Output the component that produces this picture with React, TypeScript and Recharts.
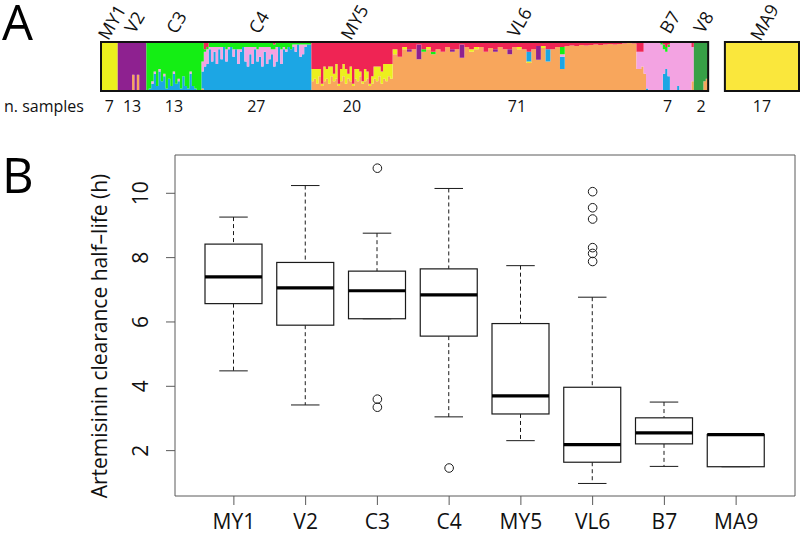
import React from 'react';
import { ComposedChart, Area, XAxis, YAxis, ReferenceArea, Bar, Scatter } from 'recharts';

const FONT = '"Open Sans", "Noto Sans", sans-serif';

// ---------------- Panel A: structure plot ----------------
const groupNames = ['MY1', 'V2', 'C3', 'C4', 'MY5', 'VL6', 'B7', 'V8', 'MA9'];
const sampleCounts = [7, 13, 13, 27, 20, 71, 7, 2, 17];
// widths in structure-plot columns
const groupWidths = [7, 12, 23, 46, 34, 104, 22, 6, 31];
const gapWidth = 7;

const layerKeys = ['o', 'y', 'p', 'b', 'k', 'g', 'd', 'r', 'm'];
const layerColors: Record<string, string> = {
  o: '#F8A65C',
  y: '#ECEF1E',
  p: '#8E2190',
  b: '#1CA6E4',
  k: '#F3A3E2',
  g: '#14EE14',
  d: '#37A046',
  r: '#EF2454',
  m: '#FAE73C',
};

const MY1_layers = ['y'];
const MY1_cols = [[1]];

const V2_layers = ['o', 'p'];
const V2_cols = [
  [0, 1], [0, 1], [0, 1], [0, 1], [0, 1], [0, 1],
  [0.33, 0.67], [0, 1], [0.33, 0.67], [0, 1], [0, 1], [0, 1],
];

const C3_layers = ['b', 'k', 'g'];
const C3_cols = [
  [0, 0, 1], [0.05, 0, 0.95], [0.15, 0.05, 0.8], [0.35, 0.05, 0.6], [0.1, 0, 0.9],
  [0.4, 0.05, 0.55], [0.2, 0, 0.8], [0.3, 0.05, 0.65], [0.05, 0, 0.95], [0.25, 0, 0.75],
  [0.1, 0, 0.9], [0.35, 0.05, 0.6], [0.15, 0, 0.85], [0.2, 0.05, 0.75], [0.05, 0, 0.95],
  [0.3, 0, 0.7], [0.1, 0, 0.9], [0.05, 0, 0.95], [0.35, 0.05, 0.6], [0.1, 0, 0.9],
  [0.05, 0, 0.95], [0, 0, 1], [0.02, 0, 0.98],
];

const C4_layers = ['o', 'b', 'k', 'g', 'r'];
const C4_cols = [
  [0.05, 0.35, 0.2, 0.4, 0], [0, 0.5, 0.3, 0.05, 0.15], [0, 0.55, 0.3, 0.05, 0.1], [0, 0.85, 0.05, 0.1, 0],
  [0, 0.6, 0.3, 0.1, 0], [0, 0.8, 0.1, 0.1, 0], [0, 0.55, 0.35, 0.1, 0], [0, 0.85, 0.05, 0.1, 0],
  [0, 0.65, 0.25, 0.1, 0], [0, 0.9, 0, 0.1, 0], [0, 0.6, 0.25, 0.15, 0], [0, 0.85, 0.05, 0.1, 0],
  [0, 0.9, 0, 0.1, 0], [0, 0.7, 0.15, 0.15, 0], [0, 0.85, 0, 0.15, 0], [0, 0.55, 0.3, 0.15, 0],
  [0, 0.8, 0.05, 0.15, 0], [0, 0.9, 0, 0.1, 0], [0, 0.6, 0.3, 0.1, 0], [0, 0.5, 0.4, 0.1, 0],
  [0, 0.75, 0.15, 0.1, 0], [0, 0.55, 0.35, 0.1, 0], [0, 0.85, 0.05, 0.1, 0], [0, 0.6, 0.25, 0.15, 0],
  [0, 0.7, 0.2, 0.1, 0], [0, 0.5, 0.4, 0.1, 0], [0, 0.8, 0.1, 0.1, 0], [0, 0.55, 0.35, 0.1, 0],
  [0, 0.65, 0.25, 0.1, 0], [0, 0.75, 0.1, 0.15, 0], [0, 0.5, 0.35, 0.1, 0.05], [0, 0.6, 0.3, 0.1, 0],
  [0, 0.9, 0, 0.1, 0], [0, 0.55, 0.3, 0.15, 0], [0, 0.85, 0.05, 0.1, 0], [0, 0.8, 0.05, 0.15, 0],
  [0, 0.9, 0, 0.1, 0], [0, 0.85, 0, 0.15, 0], [0, 0.9, 0.05, 0.05, 0], [0, 0.8, 0.15, 0.05, 0],
  [0, 0.95, 0, 0.05, 0], [0, 0.7, 0.25, 0.05, 0], [0, 0.75, 0.2, 0.05, 0], [0, 0.9, 0.05, 0.05, 0],
  [0, 0.95, 0, 0.05, 0], [0, 0.95, 0, 0.05, 0],
];

const MY5_layers = ['o', 'y', 'r'];
const MY5_cols = [
  [0.2, 0.25, 0.55], [0.25, 0.2, 0.55], [0.15, 0.3, 0.55], [0.3, 0.15, 0.55], [0.1, 0.05, 0.85],
  [0.2, 0.3, 0.5], [0.25, 0.2, 0.55], [0.15, 0.35, 0.5], [0.3, 0.2, 0.5], [0.2, 0.15, 0.65],
  [0.25, 0.3, 0.45], [0.1, 0.05, 0.85], [0.2, 0.25, 0.55], [0.3, 0.25, 0.45], [0.15, 0.3, 0.55],
  [0.25, 0.1, 0.65], [0.2, 0.3, 0.5], [0.1, 0.05, 0.85], [0.25, 0.2, 0.55], [0.2, 0.25, 0.55],
  [0.3, 0.1, 0.6], [0.15, 0.05, 0.8], [0.2, 0.25, 0.55], [0.25, 0.15, 0.6], [0.1, 0.05, 0.85],
  [0.15, 0.15, 0.7], [0.25, 0.25, 0.5], [0.2, 0.3, 0.5], [0.3, 0.2, 0.5], [0.15, 0.25, 0.6],
  [0.25, 0.3, 0.45], [0.2, 0.35, 0.45], [0.3, 0.25, 0.45], [0.25, 0.3, 0.45],
];

const VL6_layers = ['o', 'y', 'p', 'b', 'k', 'g', 'r'];
const VL6_cols = [
  [0.75, 0.1, 0, 0, 0, 0, 0.15], [0.7, 0, 0, 0, 0, 0, 0.3], [0.85, 0.05, 0, 0, 0, 0, 0.1], [0.8, 0, 0.05, 0, 0, 0, 0.15],
  [0.85, 0, 0, 0, 0, 0, 0.15], [0.65, 0, 0.3, 0, 0, 0, 0.05], [0.8, 0, 0, 0, 0, 0.05, 0.15], [0.85, 0.05, 0, 0, 0, 0, 0.1],
  [0.75, 0, 0, 0, 0, 0.05, 0.2], [0.85, 0, 0, 0, 0, 0, 0.15], [0.8, 0, 0, 0, 0, 0, 0.2], [0.9, 0, 0, 0, 0, 0, 0.1],
  [0.8, 0, 0.05, 0, 0, 0, 0.15], [0.85, 0, 0, 0, 0, 0, 0.15], [0.68, 0, 0.27, 0, 0, 0, 0.05], [0.9, 0, 0, 0, 0, 0, 0.1],
  [0.8, 0.05, 0, 0, 0, 0, 0.15], [0.85, 0.05, 0, 0, 0, 0, 0.1], [0.9, 0, 0, 0, 0, 0, 0.1], [0.8, 0, 0, 0, 0, 0, 0.2],
  [0.88, 0, 0, 0, 0, 0, 0.12], [0.8, 0, 0.05, 0, 0, 0, 0.15], [0.9, 0, 0, 0, 0, 0, 0.1], [0.85, 0, 0, 0, 0, 0, 0.15],
  [0.75, 0, 0.1, 0, 0, 0, 0.15], [0.9, 0, 0, 0, 0, 0, 0.1], [0.85, 0.05, 0, 0, 0, 0, 0.1], [0.85, 0, 0, 0, 0, 0, 0.15],
  [0.57, 0.03, 0, 0.2, 0, 0, 0.2], [0.85, 0, 0, 0, 0, 0, 0.15], [0.64, 0, 0.28, 0, 0, 0, 0.08], [0.88, 0.04, 0, 0, 0, 0, 0.08],
  [0.6, 0, 0, 0.25, 0, 0, 0.15], [0.85, 0, 0, 0, 0, 0, 0.15], [0.9, 0, 0, 0, 0, 0, 0.1], [0.45, 0, 0, 0.25, 0.05, 0.15, 0.1],
  [0.92, 0, 0, 0, 0, 0, 0.08], [0.93, 0, 0, 0, 0, 0, 0.07], [0.92, 0, 0, 0, 0, 0, 0.08], [0.94, 0, 0, 0, 0, 0, 0.06],
  [0.93, 0, 0, 0, 0, 0, 0.07], [0.94, 0, 0, 0, 0, 0, 0.06], [0.95, 0, 0, 0, 0, 0, 0.05], [0.94, 0, 0, 0, 0, 0, 0.06],
  [0.95, 0, 0, 0, 0, 0, 0.05], [0.96, 0, 0, 0, 0, 0, 0.04], [0.95, 0, 0, 0, 0, 0, 0.05], [0.96, 0, 0, 0, 0, 0, 0.04],
  [0.97, 0, 0, 0, 0, 0, 0.03], [0.98, 0, 0, 0, 0, 0, 0.02], [0.97, 0, 0, 0, 0, 0, 0.03], [0.45, 0, 0, 0, 0.35, 0, 0.2],
];

const B7_layers = ['o', 'b', 'k', 'g', 'r'];
const B7_cols = [
  [0.5, 0, 0.3, 0, 0.2], [0.35, 0, 0.65, 0, 0], [0, 0.05, 0.95, 0, 0], [0, 0, 1, 0, 0],
  [0, 0, 1, 0, 0], [0, 0, 1, 0, 0], [0, 0, 1, 0, 0], [0, 0, 1, 0, 0],
  [0, 0, 0.95, 0.05, 0], [0, 0.35, 0.5, 0.1, 0.05], [0, 0.45, 0.35, 0.1, 0.1], [0, 0.3, 0.6, 0.05, 0.05],
  [0, 0, 1, 0, 0], [0, 0, 1, 0, 0], [0, 0, 1, 0, 0], [0, 0.1, 0.9, 0, 0],
  [0, 0, 1, 0, 0], [0, 0, 1, 0, 0], [0, 0, 1, 0, 0], [0, 0, 1, 0, 0],
  [0, 0, 1, 0, 0], [0.2, 0, 0.7, 0, 0.1],
];

const V8_layers = ['o', 'd'];
const V8_cols = [[0, 1], [0, 1], [0, 1], [0, 1], [0.2, 0.8], [0.25, 0.75]];

const MA9_layers = ['m'];
const MA9_cols = [[1]];

const structureGroups = [
  { layers: MY1_layers, cols: MY1_cols },
  { layers: V2_layers, cols: V2_cols },
  { layers: C3_layers, cols: C3_cols },
  { layers: C4_layers, cols: C4_cols },
  { layers: MY5_layers, cols: MY5_cols },
  { layers: VL6_layers, cols: VL6_cols },
  { layers: B7_layers, cols: B7_cols },
  { layers: V8_layers, cols: V8_cols },
  { layers: MA9_layers, cols: MA9_cols },
];

function emptyRow(x: number) {
  const row: any = { x };
  layerKeys.forEach((k) => (row[k] = 0));
  return row;
}

const structureRows: any[] = [];
const groupCenters: number[] = [];
const blockBounds: number[][] = [];
(() => {
  let x = 0;
  let blockStart = 0;
  structureGroups.forEach((g, gi) => {
    if (gi === 8) {
      blockBounds.push([blockStart, x]);
      structureRows.push(emptyRow(x));
      x += gapWidth;
      blockStart = x;
    }
    const w = groupWidths[gi] / g.cols.length;
    g.cols.forEach((col, ci) => {
      const row = emptyRow(x + ci * w);
      g.layers.forEach((k, li) => (row[k] = col[li]));
      structureRows.push(row);
    });
    groupCenters.push(x + groupWidths[gi] / 2);
    x += groupWidths[gi];
  });
  blockBounds.push([blockStart, x]);
  structureRows.push({ ...structureRows[structureRows.length - 1], x });
})();
const structureTotal = structureRows[structureRows.length - 1].x;

const labelIndex = (v: number) => {
  let best = 0;
  groupCenters.forEach((c, i) => {
    if (Math.abs(c - v) < Math.abs(groupCenters[best] - v)) best = i;
  });
  return best;
};

const GroupNameTick = (props: any) => {
  const { x, y, payload } = props;
  const i = labelIndex(payload.value);
  const ty = y - 20;
  return (
    <text
      x={x + 2}
      y={ty}
      textAnchor="middle"
      dominantBaseline="central"
      transform={`rotate(-60, ${x + 2}, ${ty})`}
      fontFamily={FONT}
      fontSize={18}
      fill="#111"
    >
      {groupNames[i]}
    </text>
  );
};

const CountTick = (props: any) => {
  const { x, y, payload } = props;
  const i = labelIndex(payload.value);
  return (
    <text x={x} y={y + 21} textAnchor="middle" fontFamily={FONT} fontSize={16} fill="#111">
      {sampleCounts[i]}
    </text>
  );
};

// ---------------- Panel B: box plot ----------------
const boxGroups = ['MY1', 'V2', 'C3', 'C4', 'MY5', 'VL6', 'B7', 'MA9'];
const whiskerLow = [4.48, 3.42, 6.1, 3.05, 2.31, 0.98, 1.51, 1.5];
const quartile1 = [6.57, 5.9, 6.1, 5.56, 3.14, 1.64, 2.21, 1.5];
const medians = [7.4, 7.06, 6.97, 6.84, 3.7, 2.19, 2.55, 2.5];
const quartile3 = [8.42, 7.85, 7.58, 7.65, 5.95, 3.97, 3.02, 2.5];
const whiskerHigh = [9.26, 10.24, 8.76, 10.15, 7.75, 6.77, 3.51, 2.5];

const outlierGroups = ['C3', 'C3', 'C3', 'C4', 'VL6', 'VL6', 'VL6', 'VL6', 'VL6', 'VL6'];
const outlierValues = [10.78, 3.6, 3.35, 1.46, 10.05, 9.55, 9.2, 8.31, 8.13, 7.88];

const yTicks = [2, 4, 6, 8, 10];
const yDomain = [0.59, 11.19];

const boxData = boxGroups.map((g, i) => ({
  g,
  lo: whiskerLow[i],
  q1: quartile1[i],
  med: medians[i],
  q3: quartile3[i],
  hi: whiskerHigh[i],
  range: [whiskerLow[i], whiskerHigh[i]],
}));
const outlierData = outlierGroups.map((g, i) => ({ g, v: outlierValues[i] }));

const BoxShape = (props: any) => {
  const { x, y, width, height, payload } = props;
  const top = Math.min(y, y + height);
  const h = Math.abs(height);
  const { lo, hi, q1, q3, med } = payload;
  const span = hi - lo || 1;
  const py = (v: number) => top + (h * (hi - v)) / span;
  const cx = x + width / 2;
  const cap = width / 4;
  const stroke = '#1a1a1a';
  return (
    <g>
      {hi > q3 && (
        <line x1={cx} x2={cx} y1={py(hi)} y2={py(q3)} stroke={stroke} strokeWidth={1} strokeDasharray="4 3" />
      )}
      {q1 > lo && (
        <line x1={cx} x2={cx} y1={py(q1)} y2={py(lo)} stroke={stroke} strokeWidth={1} strokeDasharray="4 3" />
      )}
      <line x1={cx - cap} x2={cx + cap} y1={py(hi)} y2={py(hi)} stroke={stroke} strokeWidth={1} />
      <line x1={cx - cap} x2={cx + cap} y1={py(lo)} y2={py(lo)} stroke={stroke} strokeWidth={1} />
      <rect x={x} y={py(q3)} width={width} height={py(q1) - py(q3)} fill="#fff" stroke={stroke} strokeWidth={1.2} />
      <line x1={x} x2={x + width} y1={py(med)} y2={py(med)} stroke="#000" strokeWidth={3.2} />
    </g>
  );
};

const OutlierShape = (props: any) => {
  const { cx, cy } = props;
  return <circle cx={cx} cy={cy} r={4.3} fill="none" stroke="#1a1a1a" strokeWidth={1} />;
};

const YTick = (props: any) => {
  const { x, y, payload } = props;
  const tx = x - 16;
  return (
    <text
      x={tx}
      y={y}
      textAnchor="middle"
      transform={`rotate(-90, ${tx}, ${y})`}
      fontFamily={FONT}
      fontSize={21}
      fill="#111"
    >
      {payload.value}
    </text>
  );
};

const XTick = (props: any) => {
  const { x, y, payload } = props;
  return (
    <text x={x} y={y + 22} textAnchor="middle" fontFamily={FONT} fontSize={21} fill="#111">
      {payload.value}
    </text>
  );
};

const frameColor = '#5a5a5a';

export default function App() {
  return (
    <div style={{ position: 'absolute', left: 0, top: 0, width: 800, height: 535, background: '#fff', fontFamily: FONT }}>
      <div style={{ position: 'absolute', left: 0, top: 0 }}>
        <ComposedChart width={800} height={125} data={structureRows} margin={{ top: 41, right: 1, bottom: 4, left: 101 }}>
          <XAxis
            xAxisId="top"
            orientation="top"
            type="number"
            dataKey="x"
            domain={[0, structureTotal]}
            allowDataOverflow
            ticks={groupCenters}
            interval={0}
            axisLine={false}
            tickLine={false}
            tickSize={0}
            tickMargin={0}
            height={1}
            tick={<GroupNameTick />}
          />
          <XAxis
            xAxisId="bottom"
            orientation="bottom"
            type="number"
            dataKey="x"
            domain={[0, structureTotal]}
            allowDataOverflow
            ticks={groupCenters}
            interval={0}
            axisLine={false}
            tickLine={false}
            tickSize={0}
            tickMargin={0}
            height={30}
            tick={<CountTick />}
          />
          <YAxis hide domain={[0, 1]} allowDataOverflow />
          {layerKeys.map((k) => (
            <Area
              key={k}
              xAxisId="bottom"
              type="stepAfter"
              dataKey={k}
              stackId="q"
              stroke="none"
              fill={layerColors[k]}
              fillOpacity={1}
              dot={false}
              activeDot={false}
              isAnimationActive={false}
            />
          ))}
          {blockBounds.map((b, i) => (
            <ReferenceArea
              key={i}
              xAxisId="bottom"
              x1={b[0]}
              x2={b[1]}
              y1={0}
              y2={1}
              fill="none"
              fillOpacity={0}
              stroke="#111"
              strokeWidth={2}
            />
          ))}
        </ComposedChart>
      </div>

      <div style={{ position: 'absolute', left: 0, top: 130 }}>
        <ComposedChart width={800} height={405} data={boxData} margin={{ top: 24, right: 4, bottom: 0, left: 0 }}>
          <XAxis
            dataKey="g"
            type="category"
            allowDuplicatedCategory={false}
            padding={{ left: 23, right: 23 }}
            height={39}
            tickSize={9}
            tickMargin={2}
            interval={0}
            axisLine={{ stroke: frameColor, strokeWidth: 1 }}
            tickLine={{ stroke: frameColor, strokeWidth: 1 }}
            tick={<XTick />}
          />
          <XAxis
            xAxisId="frameTop"
            dataKey="g"
            orientation="top"
            type="category"
            allowDuplicatedCategory={false}
            height={1}
            tick={false}
            tickLine={false}
            axisLine={{ stroke: frameColor, strokeWidth: 1 }}
          />
          <YAxis
            type="number"
            domain={yDomain}
            allowDataOverflow
            ticks={yTicks}
            interval={0}
            width={175}
            tickSize={9}
            tickMargin={2}
            axisLine={{ stroke: frameColor, strokeWidth: 1 }}
            tickLine={{ stroke: frameColor, strokeWidth: 1 }}
            tick={<YTick />}
          />
          <YAxis
            yAxisId="frameRight"
            orientation="right"
            type="number"
            domain={yDomain}
            allowDataOverflow
            width={1}
            tick={false}
            tickLine={false}
            axisLine={{ stroke: frameColor, strokeWidth: 1 }}
          />
          <Bar dataKey="range" barSize={57} shape={<BoxShape />} isAnimationActive={false} />
          <Scatter data={outlierData} dataKey="v" shape={<OutlierShape />} isAnimationActive={false} />
        </ComposedChart>
      </div>

      <svg width={800} height={535} style={{ position: 'absolute', left: 0, top: 0, pointerEvents: 'none' }}>
        <text x={2} y={40} fontFamily={FONT} fontSize={49} fill="#000">A</text>
        <text x={2} y={193} fontFamily={FONT} fontSize={49} fill="#000">B</text>
        <text x={4} y={112} fontFamily={FONT} fontSize={16} fill="#111">n. samples</text>
        <text
          x={107}
          y={336}
          textAnchor="middle"
          transform="rotate(-90, 107, 336)"
          fontFamily={FONT}
          fontSize={21}
          fill="#111"
        >
          Artemisinin clearance half–life (h)
        </text>
      </svg>
    </div>
  );
}
